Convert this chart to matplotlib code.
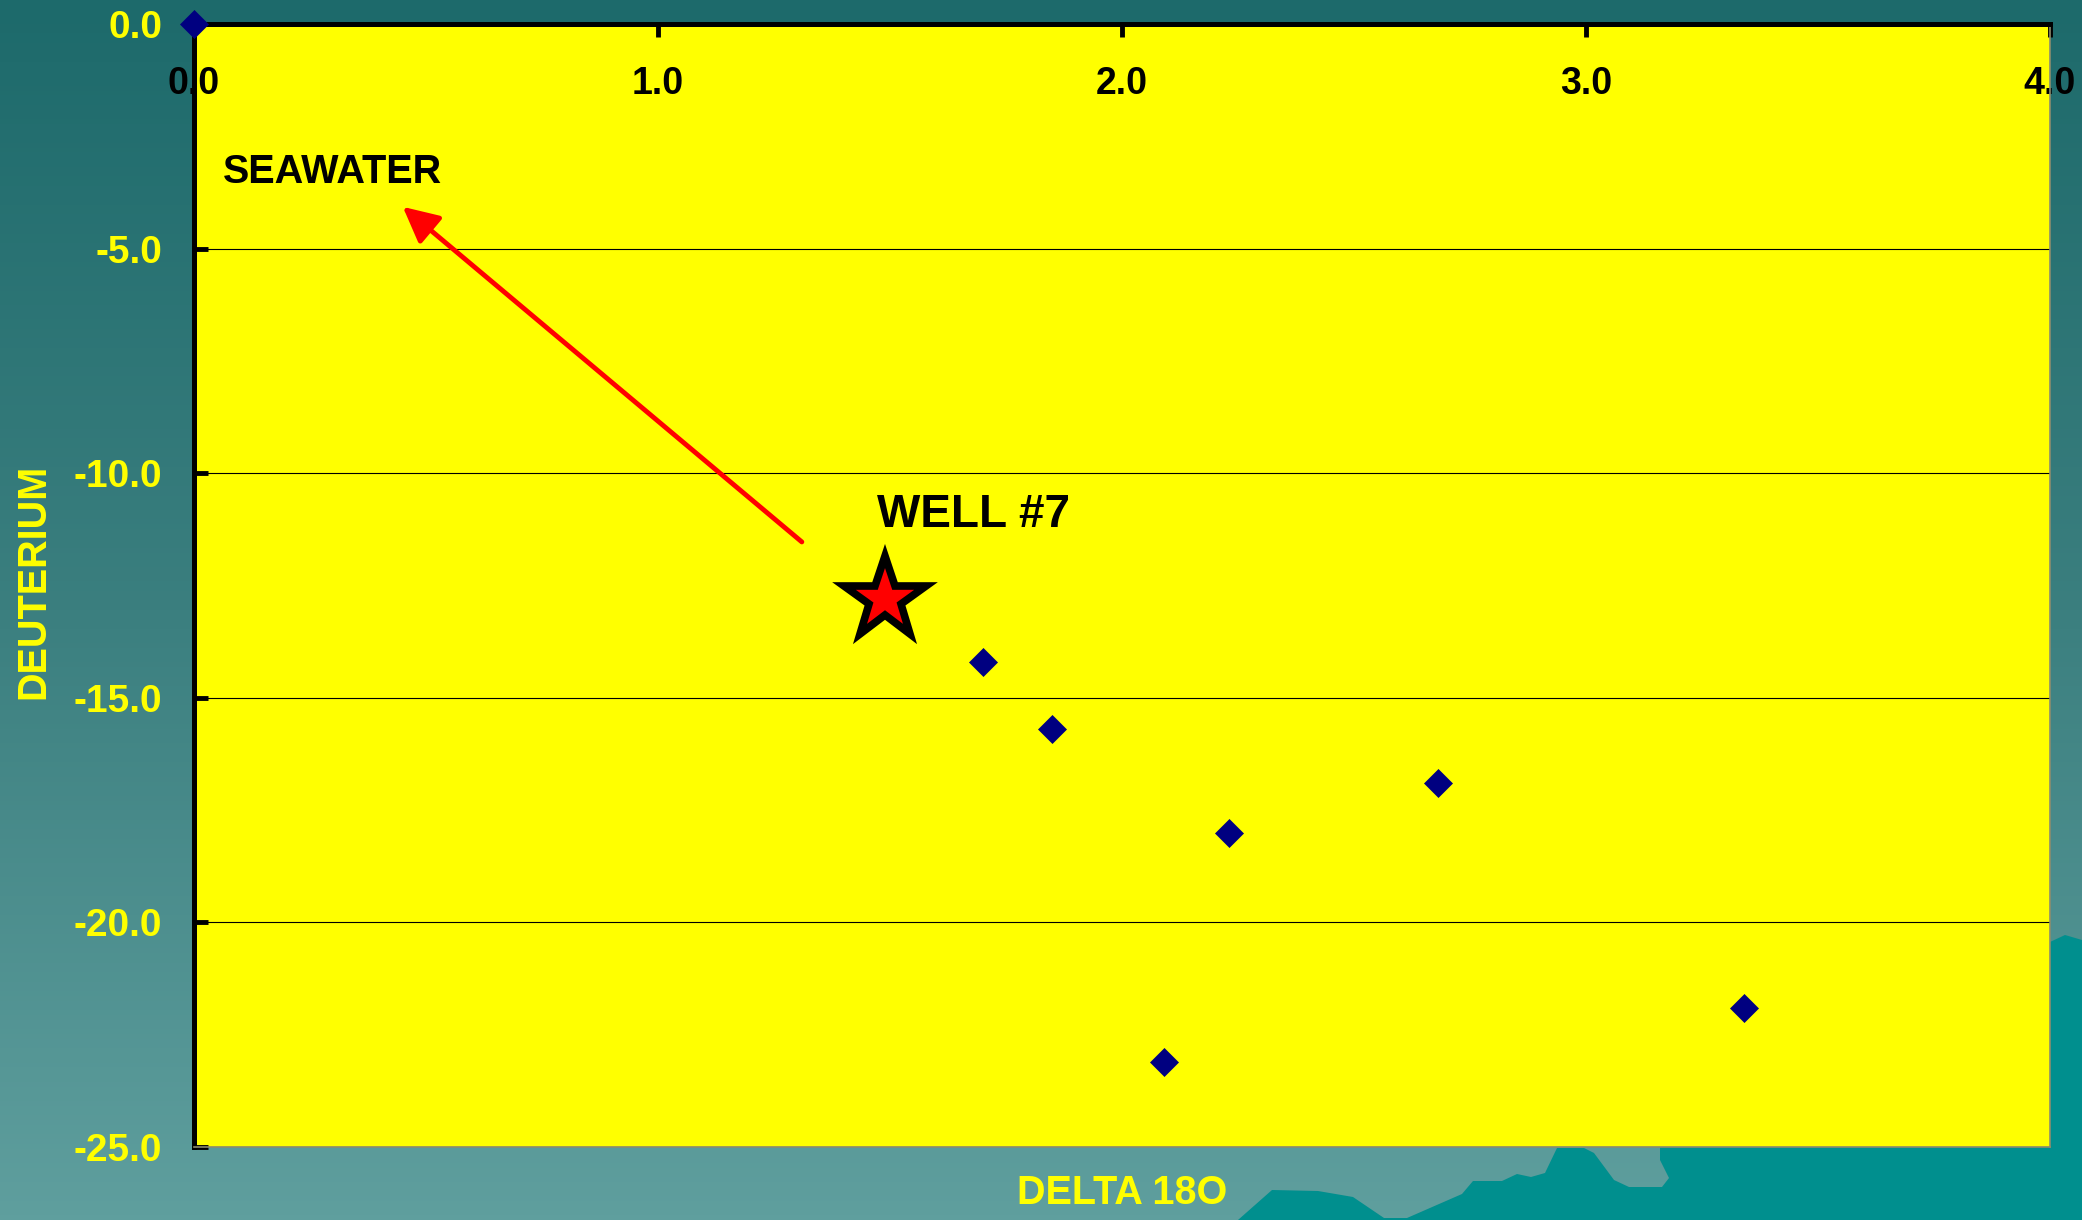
import matplotlib
matplotlib.use('Agg')
import matplotlib.pyplot as plt
import numpy as np
from matplotlib.colors import LinearSegmentedColormap
from matplotlib.markers import MarkerStyle
from matplotlib.patches import Polygon

# isotope data
delta_18o = [0.0, 1.70, 1.85, 2.09, 2.23, 2.68, 3.34]
deuterium = [0.0, -14.2, -15.7, -23.1, -18.0, -16.9, -21.9]
well7_x = [1.49]
well7_y = [-12.8]
arrow_from = (1.31, -11.53)
arrow_to = (0.45, -4.07)
x_ticks = [0.0, 1.0, 2.0, 3.0, 4.0]
y_ticks = [0.0, -5.0, -10.0, -15.0, -20.0, -25.0]

plt.rcParams['font.family'] = ['Liberation Sans', 'DejaVu Sans']
plt.rcParams['font.weight'] = 'bold'

W, H = 2082, 1220
fig = plt.figure(figsize=(W / 100, H / 100), dpi=100)

# slide background: teal gradient with a mountain silhouette
bg = fig.add_axes([0, 0, 1, 1], zorder=-10)
grad = np.linspace(0, 1, 256).reshape(-1, 1)
cmap = LinearSegmentedColormap.from_list('bg', ['#1d6a6b', '#3b7f7f', '#5f9f9e'])
bg.imshow(grad, extent=[0, 1, 0, 1], aspect='auto', cmap=cmap, origin='upper')
mountain_px = [(1238, 1220), (1272, 1190), (1318, 1191), (1353, 1197), (1384, 1218),
               (1407, 1218), (1462, 1194), (1473, 1181), (1502, 1181), (1517, 1174),
               (1531, 1177), (1545, 1173), (1557, 1148), (1584, 1148), (1594, 1153),
               (1614, 1180), (1629, 1187), (1662, 1187), (1669, 1178), (1660, 1160),
               (1660, 1100), (2050, 942), (2065, 935), (2082, 940), (2082, 1220)]
bg.add_patch(Polygon([(x / W, 1 - y / H) for x, y in mountain_px], closed=True,
                     facecolor='#008f8e', edgecolor='none'))
bg.set_xlim(0, 1)
bg.set_ylim(0, 1)
bg.axis('off')

ax = fig.add_axes([194 / W, 1 - 1147 / H, (2050 - 194) / W, (1147 - 24) / H])
ax.set_facecolor('#ffff00')
ax.set_xlim(0, 4)
ax.set_ylim(-25, 0)

ax.set_xticks(x_ticks)
ax.set_xticklabels(['%.1f' % v for v in x_ticks])
ax.set_yticks(y_ticks)
ax.set_yticklabels(['%.1f' % v for v in y_ticks])
ax.xaxis.tick_top()
ax.tick_params(axis='x', direction='in', length=9, width=3.5, pad=-56,
               labelsize=27, labelcolor='black', bottom=False)
ax.tick_params(axis='y', direction='in', length=10, width=3.5, pad=23,
               labelsize=28, labelcolor='#ffff00', right=False)
ax.yaxis.grid(True, color='black', lw=0.8)

for s in ['left', 'top']:
    ax.spines[s].set_color('black')
    ax.spines[s].set_linewidth(3.6)
for s in ['right', 'bottom']:
    ax.spines[s].set_color('#8c8c6e')
    ax.spines[s].set_linewidth(1.2)

ax.plot(delta_18o, deuterium, 'D', color='#000080', ms=14, mew=0.5,
        clip_on=False, zorder=6)
star = MarkerStyle('*', joinstyle='miter')
ax.plot(well7_x, well7_y, marker=star, ls='none', ms=62, mfc='red', mec='black',
        mew=5.5, zorder=6)

ax.annotate('', xy=arrow_to, xytext=arrow_from,
            arrowprops=dict(arrowstyle='-|>', color='red', lw=3.5,
                            mutation_scale=54, shrinkA=0, shrinkB=0))

ax.text(0.0625, -3.54, 'SEAWATER', fontsize=28.5, color='black', ha='left', va='baseline')
ax.text(1.472, -11.2, 'WELL #7', fontsize=33, color='black', ha='left', va='baseline')

ax.text((33 - 194) / 1856, 0.5036, 'DEUTERIUM', transform=ax.transAxes, rotation=90,
        fontsize=28.5, color='#ffff00', ha='center', va='center')
ax.text(0.5, -0.024, 'DELTA 18O', transform=ax.transAxes,
        fontsize=28.5, color='#ffff00', ha='center', va='top')

fig.savefig('out.png', dpi=100)
